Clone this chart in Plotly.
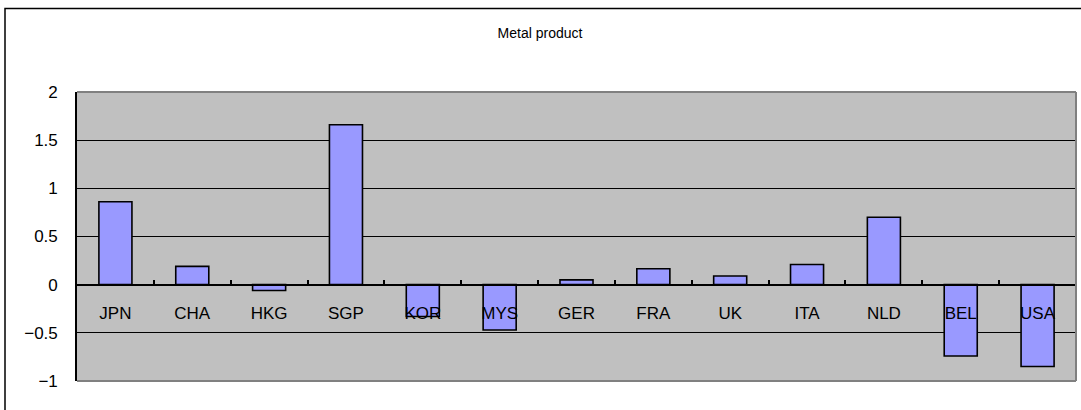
import plotly.graph_objects as go

categories = ["JPN", "CHA", "HKG", "SGP", "KOR", "MYS", "GER", "FRA", "UK", "ITA", "NLD", "BEL", "USA"]
values = [0.86, 0.19, -0.06, 1.66, -0.33, -0.47, 0.05, 0.165, 0.09, 0.21, 0.70, -0.74, -0.85]
y_ticks = [-1, -0.5, 0, 0.5, 1, 1.5, 2]
y_labels = ["\u22121", "\u22120.5", "0", "0.5", "1", "1.5", "2"]
title_text = "Metal product"

W, H = 1081, 410
L, R, T, B = 77, 5, 92, 29
pw, ph = W - L - R, H - T - B

fig = go.Figure()
fig.add_trace(go.Bar(
    x=categories, y=values,
    marker=dict(color="#9999FF", line=dict(color="black", width=1.6)),
))

font = "Liberation Sans, Arial, sans-serif"
fig.update_layout(
    width=W, height=H, autosize=False,
    margin=dict(l=L, r=R, t=T, b=B, pad=0),
    paper_bgcolor="white", plot_bgcolor="#C0C0C0",
    bargap=0.57, showlegend=False,
    title=dict(text=title_text, x=540 / W, xanchor="center", xref="container",
               y=1 - 33 / H, yanchor="middle", yref="container",
               font=dict(family=font, size=14, color="black")),
    xaxis=dict(type="category", range=[-0.5, len(categories) - 0.5],
               anchor="free", position=1 / 3,
               showline=True, linecolor="black", linewidth=1.6,
               ticks="inside", ticklen=4, tickcolor="black", tickwidth=1.5,
               tickson="boundaries", showgrid=False,
               ticklabelstandoff=13,
               tickfont=dict(family=font, size=17, color="black")),
    yaxis=dict(range=[-1, 2], tickvals=y_ticks, ticktext=y_labels,
               showline=True, linecolor="black", linewidth=1.6,
               ticks="inside", ticklen=4, tickcolor="black",
               showgrid=True, gridcolor="black", gridwidth=1.4,
               zeroline=False, ticklabelstandoff=14,
               tickfont=dict(family=font, size=17, color="black")),
)

# plot area border (top, right, bottom) in gray
gray = "#808080"
fig.add_shape(type="line", xref="paper", yref="paper", x0=0, x1=1, y0=1, y1=1,
              line=dict(color=gray, width=2), layer="above")
fig.add_shape(type="line", xref="paper", yref="paper", x0=1, x1=1, y0=0, y1=1,
              line=dict(color=gray, width=2), layer="above")
fig.add_shape(type="line", xref="paper", yref="paper", x0=0, x1=1, y0=0, y1=0,
              line=dict(color=gray, width=2), layer="above")

# outer chart border
fig.add_shape(type="rect", xref="paper", yref="paper",
              x0=(5 - L) / pw, x1=1.05, y0=-0.3, y1=1 + (T - 8.5) / ph,
              line=dict(color="black", width=1.5), layer="above")

fig.write_html("out.html")
